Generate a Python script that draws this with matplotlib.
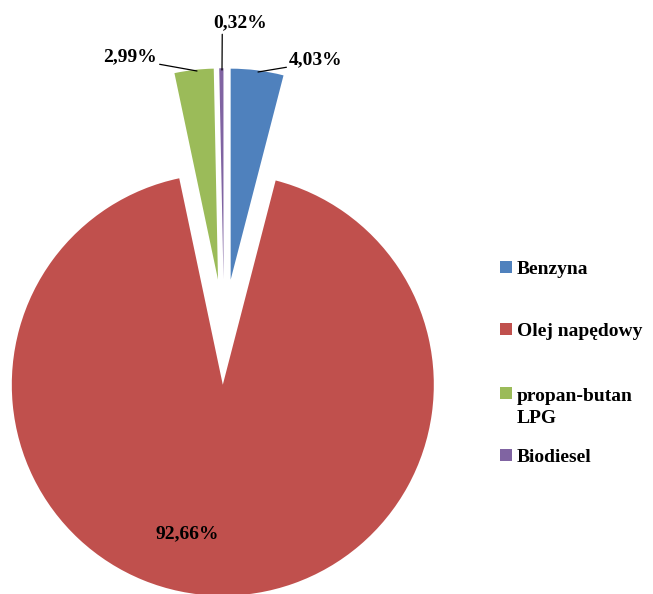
import matplotlib
matplotlib.use("Agg")
import matplotlib.pyplot as plt
from matplotlib.patches import Rectangle

categories = ["Benzyna", "Olej napędowy", "propan-butan\nLPG", "Biodiesel"]
values = [4.03, 92.66, 2.99, 0.32]
value_labels = ["4,03%", "92,66%", "2,99%", "0,32%"]
colors = ["#4F81BD", "#C0504D", "#9BBB59", "#8064A2"]

plt.rcParams['font.family'] = ['Liberation Serif', 'DejaVu Serif']

W, H = 653, 594
fig = plt.figure(figsize=(W / 100, H / 100), dpi=100)
ax = fig.add_axes([0, 0, 1, 1])

R = 211.0
cx, cy = 224.0, 332.0

def px(x, y):
    return ((x - cx) / R, (cy - y) / R)

wedges, _ = ax.pie(values, colors=colors, startangle=90, counterclock=False,
                   explode=[0.25] * len(values), radius=1.0,
                   wedgeprops=dict(linewidth=0))

ax.set_xlim(-cx / R, (W - cx) / R)
ax.set_ylim(-(H - cy) / R, cy / R)
ax.set_aspect('auto')
ax.axis('off')

fs = 14
lbl = dict(fontsize=fs, fontweight='bold', color='black', ha='center', va='center')

def line(relpos):
    return dict(arrowstyle='-', color='black', lw=0.9, shrinkA=0, shrinkB=0, relpos=relpos)

ax.annotate(value_labels[0], xy=px(258, 72), xytext=px(316, 60), arrowprops=line((0.0, 0.1)), **lbl)
ax.annotate(value_labels[3], xy=px(222, 70), xytext=px(240, 23), arrowprops=line((0.17, 0.0)), **lbl)
ax.annotate(value_labels[2], xy=px(197, 71), xytext=px(130, 57), arrowprops=line((1.0, 0.1)), **lbl)
ax.text(*px(187, 534), value_labels[1], **lbl)

# legend (drawn manually to match the original layout)
first_baselines = [274, 336, 400, 462]
line_gap = 23
for cat, col, by in zip(categories, colors, first_baselines):
    fig.patches.append(Rectangle((500 / W, 1 - (by - 1) / H), 12 / W, 12 / H,
                                 transform=fig.transFigure, facecolor=col,
                                 edgecolor='none'))
    last_by = by + line_gap * cat.count("\n")
    fig.text(517 / W, 1 - last_by / H, cat, fontsize=fs, fontweight='bold',
             ha='left', va='baseline', linespacing=1.35)

fig.savefig("out.png", dpi=100)
